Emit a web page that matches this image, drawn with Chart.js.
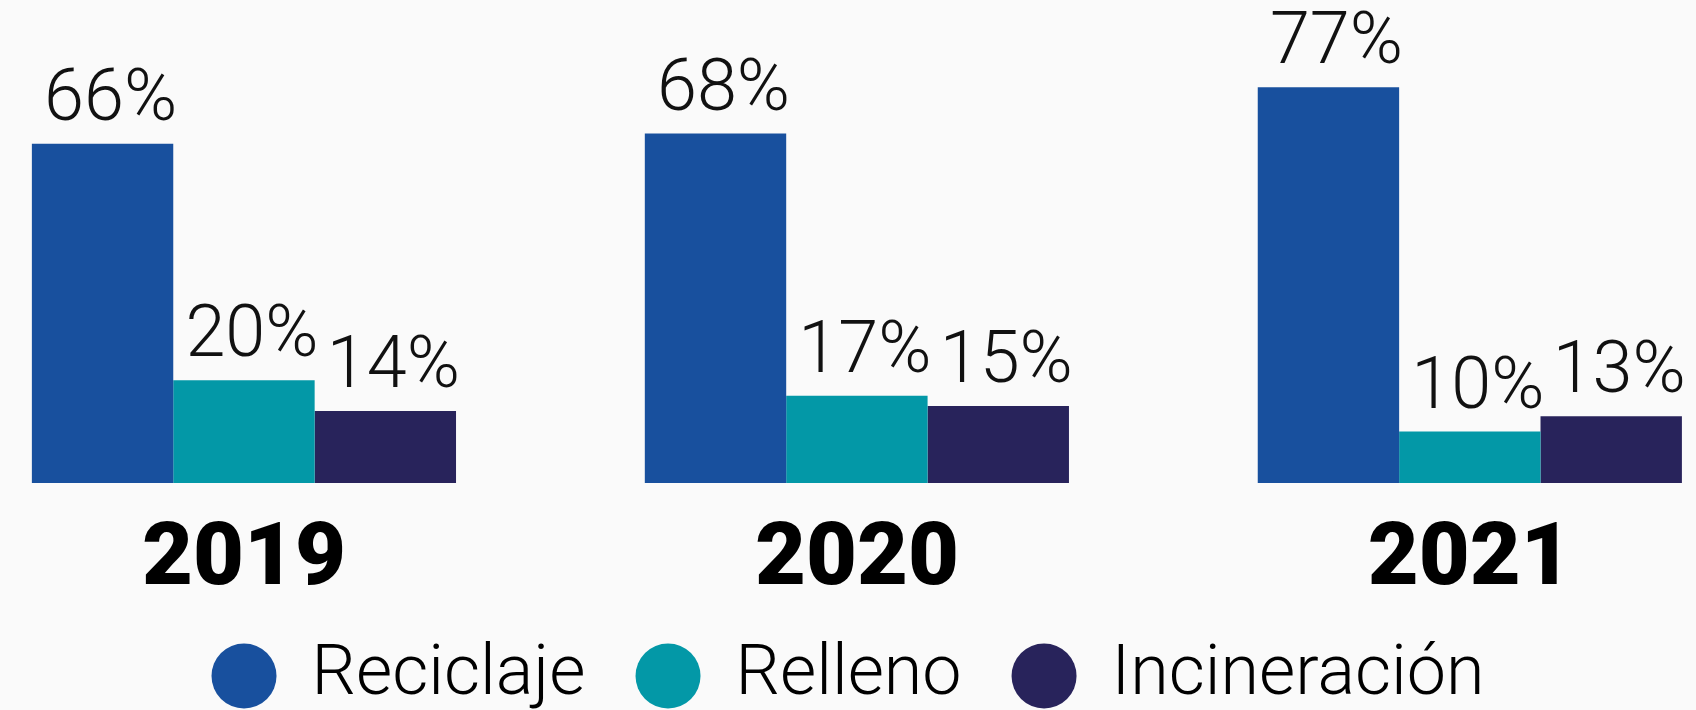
<!DOCTYPE html>
<html lang="es">
<head>
<meta charset="utf-8">
<title>Reciclaje, relleno e incineración</title>
<script src="https://cdn.jsdelivr.net/npm/chart.js@4.4.1/dist/chart.umd.min.js"></script>
<style>
  html, body { margin: 0; padding: 0; background: #fafafa; overflow: hidden; }
  #wrap { width: 1696px; height: 710px; position: relative; }
</style>
</head>
<body>
<div id="wrap"><canvas id="residuos-chart"></canvas></div>
<script>
var years = ['2019', '2020', '2021'];
var reciclaje = [66, 68, 77];
var relleno = [20, 17, 10];
var incineracion = [14, 15, 13];

// bars sit on a numeric x axis (one unit per year) so the groups can be spaced freely
function points(values) {
    return values.map(function(v, i) { return { x: i, y: v }; });
}

// value labels above each bar, light weight
var barLabels = {
    id: 'barLabels',
    afterDatasetsDraw: function(chart) {
        var ctx = chart.ctx;
        ctx.save();
        ctx.font = '300 72px Roboto, "Noto Sans", sans-serif';
        ctx.fillStyle = '#111111';
        ctx.textAlign = 'center';
        ctx.textBaseline = 'alphabetic';
        chart.data.datasets.forEach(function(ds, i) {
            chart.getDatasetMeta(i).data.forEach(function(bar, j) {
                ctx.fillText(ds.data[j].y + '%', bar.x + 8, bar.y - 24);
            });
        });
        ctx.restore();
    }
};

var ctx = document.getElementById('residuos-chart').getContext('2d');
var chart = new Chart(ctx, {
    type: 'bar',
    data: {
        datasets: [{
            label: 'Reciclaje',
            data: points(reciclaje),
            backgroundColor: '#18509e'
        }, {
            label: 'Relleno',
            data: points(relleno),
            backgroundColor: '#0398a7'
        }, {
            label: 'Incineración',
            data: points(incineracion),
            backgroundColor: '#28235b'
        }]
    },
    options: {
        responsive: true,
        maintainAspectRatio: false,
        animation: false,
        // legend sits right on the bottom edge
        layout: { padding: { top: 0, left: 0, right: 0, bottom: -11 } },
        datasets: {
            bar: {
                categoryPercentage: 0.692,
                barPercentage: 1.0,
                borderWidth: 0,
                clip: false
            }
        },
        scales: {
            x: {
                type: 'linear',
                offset: false,
                min: -0.398,
                max: 2.369,
                grid: { display: false, drawTicks: false },
                border: { display: false },
                afterBuildTicks: function(axis) {
                    axis.ticks = years.map(function(y, i) { return { value: i }; });
                },
                afterFit: function(axis) {
                    axis.paddingLeft = 0;
                    axis.paddingRight = 0;
                    axis.height = 108;
                },
                ticks: {
                    color: '#000000',
                    padding: 35,
                    autoSkip: false,
                    maxRotation: 0,
                    callback: function(value) { return years[value]; },
                    font: { family: 'Roboto, "DejaVu Sans", sans-serif', size: 88, weight: '900', lineHeight: 1 }
                }
            },
            y: {
                display: false,
                min: 0,
                max: 94
            }
        },
        plugins: {
            legend: {
                position: 'bottom',
                labels: {
                    usePointStyle: true,
                    pointStyle: 'circle',
                    boxHeight: 46,
                    pointStyleWidth: 65,
                    padding: 50,
                    color: '#000000',
                    font: { family: 'Roboto, "Noto Sans", sans-serif', size: 70, weight: '300', lineHeight: 1 }
                }
            },
            tooltip: { enabled: false }
        }
    },
    plugins: [barLabels]
});
</script>
</body>
</html>
